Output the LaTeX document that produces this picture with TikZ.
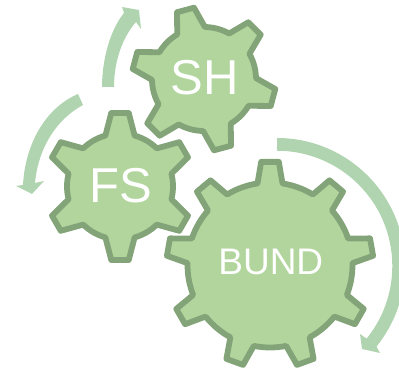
\documentclass[tikz,border=0pt]{standalone}
\usepackage{fontspec}
\setmainfont{Liberation Sans}
\definecolor{gearfill}{HTML}{B1D59C}
\definecolor{gearline}{HTML}{83A478}
\definecolor{sweep}{HTML}{B1D4B0}
% #1 centre x, #2 centre y, #3 teeth, #4 first angle, #5 root r, #6 tip r, #7 half base angle, #8 half tip angle
\newcommand{\gearpath}[8]{%
  \pgfmathsetmacro{\stp}{360/#3}%
  \draw[gearstyle] ({#1+#5*cos(#4+#7)},{#2+#5*sin(#4+#7)})
  \foreach \k [evaluate=\k as \aa using {#4-(\k-1)*\stp}] in {1,...,#3}{
    -- ({#1+#6*cos(\aa+#8)},{#2+#6*sin(\aa+#8)})
    -- ({#1+#6*cos(\aa-#8)},{#2+#6*sin(\aa-#8)})
    -- ({#1+#5*cos(\aa-#7)},{#2+#5*sin(\aa-#7)})
    arc[start angle={\aa-#7},end angle={\aa-\stp+#7},radius=#5]
  } -- cycle;}
\begin{document}
\begin{tikzpicture}[x=1pt,y=1pt,
  gearstyle/.style={draw=gearline,fill=gearfill,line width=5.8pt,line join=round},
  gearlabel/.style={text=white,inner sep=0pt,anchor=center}]
\useasboundingbox (0,0) rectangle (399,371);
% sweep arrows
\fill[sweep] (102,284) .. controls (102,311) and (110,341) .. (124,358)
  -- (122,364) -- (139,361) -- (141,342) -- (136,349)
  .. controls (122,333) and (114,309) .. (114,284) -- cycle;
\fill[sweep] (78,277) .. controls (45,263) and (25,226) .. (23,186)
  -- (16,185) -- (32,177) -- (44,190) -- (35,188)
  .. controls (38,221) and (55,251) .. (83,266) -- cycle;
\fill[sweep] (277,233) arc[start angle=90,end angle=-39,radius=128]
  -- (380,18) -- (362,22) -- (360,37) -- (366.6,32.4)
  arc[start angle=-39,end angle=90,radius=115.3] -- cycle;
% gears
\gearpath{120}{184.5}{6}{90}{53}{74}{16}{6.8}
\gearpath{204}{292}{6}{105}{52}{72}{16}{7}
\gearpath{270}{106}{9}{90}{82.5}{103.5}{8.7}{4.9}
\node[gearlabel,font=\fontsize{49}{49}\selectfont] (sh) at (205,293) {SH};
\node[gearlabel,font=\fontsize{49}{49}\selectfont] (fs) at (120.5,185.3) {FS};
\node[gearlabel,font=\fontsize{37}{37}\selectfont] (bund) at (270.8,109.3) {BUND};
\end{tikzpicture}
\end{document}
